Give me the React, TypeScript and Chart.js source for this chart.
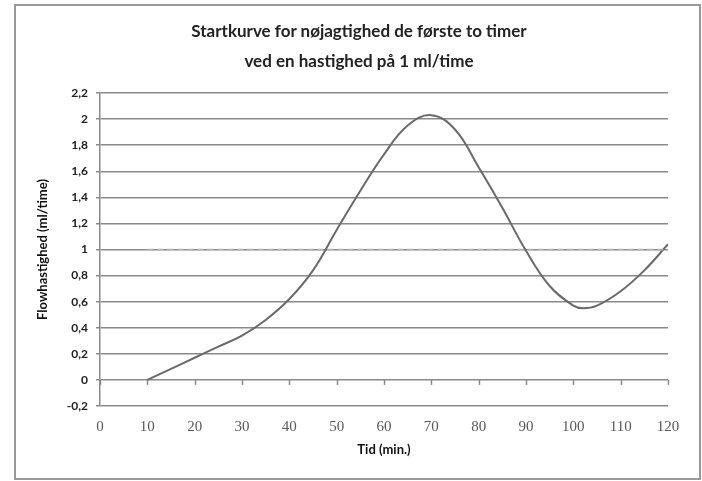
import React, { useEffect, useRef } from "react";
import { Chart, registerables } from "chart.js";

Chart.register(...registerables);

const titleLines = ["Startkurve for nøjagtighed de første to timer", "ved en hastighed på 1 ml/time"];
const xTitle = "Tid (min.)";
const yTitle = "Flowhastighed (ml/time)";

const flowX = [10, 15, 20, 25, 30, 35, 40, 45, 50, 55, 60, 65, 70, 75, 80, 85, 90, 95, 100, 102, 105, 110, 115, 120];
const flowY = [0, 0.085, 0.17, 0.255, 0.34, 0.46, 0.62, 0.84, 1.15, 1.45, 1.73, 1.95, 2.03, 1.92, 1.63, 1.32, 0.99, 0.72, 0.57, 0.55, 0.57, 0.68, 0.84, 1.04];

const refX = [10, 120];
const refY = [1, 1];

const xMin = 0, xMax = 120, xStep = 10;
const yMin = -0.2, yMax = 2.2, yStep = 0.2;

const fmt = (v: number) => {
  const r = Math.round(v * 10) / 10;
  return String(r).replace(".", ",");
};

const zeroAxisPlugin = {
  id: "zeroAxis",
  afterDatasetsDraw(chart: any) {
    const { ctx, scales } = chart;
    const x = scales.x;
    const y = scales.y;
    const y0 = y.getPixelForValue(0);
    ctx.save();
    ctx.strokeStyle = "#8a8a8a";
    ctx.lineWidth = 1.5;
    for (let v = xMin; v <= xMax; v += xStep) {
      const px = Math.round(x.getPixelForValue(v)) + 0.5;
      ctx.beginPath();
      ctx.moveTo(px, y0);
      ctx.lineTo(px, y0 + 5);
      ctx.stroke();
    }
    ctx.restore();
  },
};

export default function App() {
  const ref = useRef<HTMLCanvasElement>(null);
  useEffect(() => {
    if (!ref.current) return;
    const chart = new Chart(ref.current, {
      type: "line",
      data: {
        datasets: [
          {
            data: refX.map((x, i) => ({ x, y: refY[i] })),
            borderColor: "#b4b4b4",
            borderWidth: 1.5,
            borderDash: [6, 4],
            pointRadius: 0,
            tension: 0,
          },
          {
            data: flowX.map((x, i) => ({ x, y: flowY[i] })),
            borderColor: "#6a6a6a",
            borderWidth: 2,
            pointRadius: 0,
            tension: 0.4,
          },
        ],
      },
      options: {
        animation: false,
        responsive: false,
        maintainAspectRatio: false,
        layout: { padding: { left: 0, right: 34, top: 93, bottom: 0 } },
        plugins: { legend: { display: false }, tooltip: { enabled: false }, title: { display: false } },
        scales: {
          x: {
            type: "linear",
            min: xMin,
            max: xMax,
            grid: { display: false, drawTicks: false },
            border: { display: false },
            ticks: {
              stepSize: xStep,
              padding: 12,
              color: "#5a5a5a",
              font: { family: "Liberation Serif", size: 15 },
              maxRotation: 0,
              autoSkip: false,
            },
            title: {
              display: true,
              text: xTitle,
              color: "#111",
              font: { family: "Lato", size: 13, weight: "bold" },
              padding: { top: 0, bottom: 23 },
            },
            afterFit: (s: any) => { s.height = 75; },
          },
          y: {
            min: yMin,
            max: yMax,
            grid: { color: "#8a8a8a", lineWidth: 1.5, tickLength: 4, drawTicks: true },
            border: { display: true, color: "#8a8a8a", width: 1.5 },
            ticks: {
              stepSize: yStep,
              padding: 8,
              color: "#222",
              font: { family: "Lato", size: 12, weight: "bold" },
              callback: (v: any) => fmt(Number(v)),
            },
            title: {
              display: true,
              text: yTitle,
              color: "#111",
              font: { family: "Lato", size: 13, weight: "bold" },
              padding: { top: 35, bottom: 0 },
            },
            afterFit: (s: any) => { s.width = 100; },
          },
        },
      },
      plugins: [zeroAxisPlugin],
    });
    return () => chart.destroy();
  }, []);

  return (
    <div style={{ position: "absolute", left: 0, top: 0, width: 702, height: 481, background: "#fff", overflow: "hidden" }}>
      <div
        style={{
          position: "absolute",
          left: 14,
          top: 4,
          width: 687,
          height: 476,
          boxSizing: "border-box",
          border: "2px solid #999",
        }}
      />
      <canvas ref={ref} width={702} height={481} style={{ position: "absolute", left: 0, top: 0 }} />
      <div
        style={{
          position: "absolute",
          left: 109,
          width: 500,
          top: 16,
          textAlign: "center",
          fontFamily: "Lato",
          fontWeight: "bold",
          fontSize: 17,
          lineHeight: "30px",
          color: "#222",
        }}
      >
        <div>{titleLines[0]}</div>
        <div>{titleLines[1]}</div>
      </div>
    </div>
  );
}
